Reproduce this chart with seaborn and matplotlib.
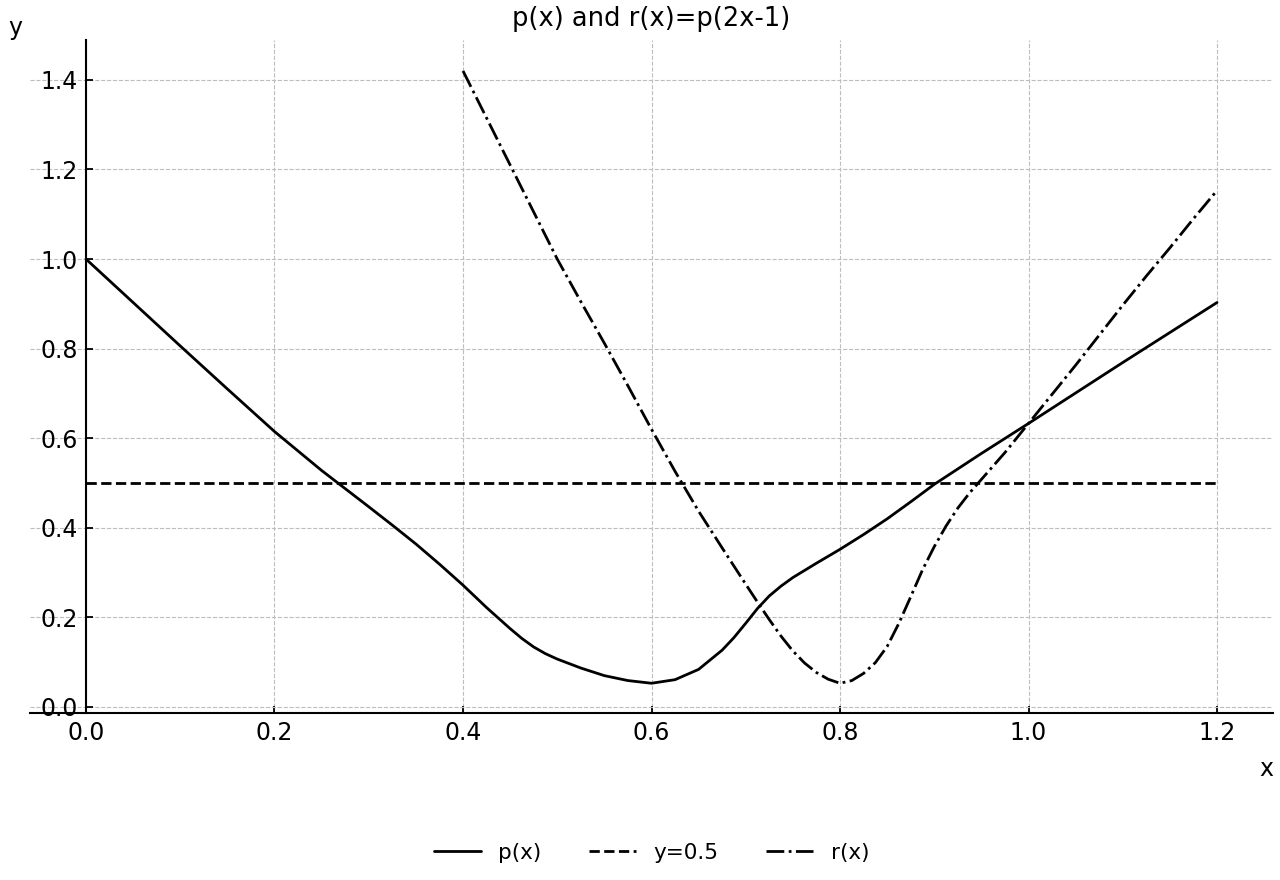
import matplotlib
matplotlib.use("Agg")
import matplotlib.pyplot as plt
import seaborn as sns

# p(x)
p_x = [0.0, 0.05, 0.1, 0.15, 0.2, 0.25, 0.3, 0.325, 0.35, 0.375, 0.4, 0.425, 0.45,
       0.4625, 0.475, 0.4875, 0.5, 0.525, 0.55, 0.575, 0.6, 0.625, 0.65, 0.675, 0.6875,
       0.7, 0.7125, 0.725, 0.7375, 0.75, 0.775, 0.8, 0.825, 0.85, 0.875, 0.9, 0.95,
       1.0, 1.05, 1.1, 1.15, 1.2]
p_y = [1.0, 0.903, 0.806, 0.71, 0.615, 0.528, 0.447, 0.406, 0.364, 0.319, 0.272, 0.222, 0.175,
       0.153, 0.134, 0.119, 0.107, 0.087, 0.07, 0.059, 0.053, 0.061, 0.084, 0.127, 0.155,
       0.187, 0.22, 0.248, 0.27, 0.289, 0.321, 0.352, 0.385, 0.42, 0.458, 0.497, 0.566,
       0.633, 0.701, 0.769, 0.836, 0.903]

# r(x) = p(2x-1), as drawn
r_x = [0.4, 0.425, 0.45, 0.475, 0.5, 0.525, 0.55, 0.575, 0.6, 0.625, 0.65, 0.675,
       0.7, 0.7125, 0.725, 0.7375, 0.75, 0.7625, 0.775, 0.7875, 0.8,
       0.8125, 0.825, 0.8375, 0.85, 0.8625, 0.875, 0.8875, 0.9, 0.9125, 0.925,
       0.9375, 0.95, 0.975, 1.0, 1.025, 1.05, 1.075, 1.1, 1.125,
       1.15, 1.175, 1.2]
r_y = [1.42, 1.315, 1.21, 1.105, 1.0, 0.905, 0.812, 0.717, 0.62, 0.526, 0.437, 0.355,
       0.274, 0.234, 0.195, 0.158, 0.125, 0.098, 0.077, 0.062, 0.053,
       0.059, 0.075, 0.099, 0.135, 0.187, 0.246, 0.306, 0.358, 0.404, 0.444,
       0.478, 0.508, 0.568, 0.633, 0.698, 0.763, 0.83, 0.897, 0.962,
       1.025, 1.09, 1.153]

h_x = [0.0, 1.2]
h_y = [0.5, 0.5]

sns.set_theme(style="ticks")
plt.rcParams['font.family'] = ['DejaVu Sans']
plt.rcParams['text.color'] = 'black'
plt.rcParams['axes.labelcolor'] = 'black'

fig = plt.figure(figsize=(12.8, 8.8), dpi=100)
ax = fig.add_axes([30/1280, 1-713/880, 1243/1280, 673/880])

sns.lineplot(x=p_x, y=p_y, ax=ax, color="black", linewidth=2, linestyle="-", label="p(x)", sort=False)
sns.lineplot(x=h_x, y=h_y, ax=ax, color="black", linewidth=2, linestyle="--", label="y=0.5", sort=False)
sns.lineplot(x=r_x, y=r_y, ax=ax, color="black", linewidth=2, linestyle="-.", label="r(x)", sort=False)

ax.set_xlim(-0.0594, 1.2594)
ax.set_ylim(-0.0134, 1.489)
ax.set_xticks([0.0, 0.2, 0.4, 0.6, 0.8, 1.0, 1.2])
ax.set_yticks([0.0, 0.2, 0.4, 0.6, 0.8, 1.0, 1.2, 1.4])

ax.grid(True, linestyle="--", color="#bdbdbd", linewidth=0.8)
ax.spines["left"].set_position(("data", 0))
ax.spines["top"].set_visible(False)
ax.spines["right"].set_visible(False)
for s in ["left", "bottom"]:
    ax.spines[s].set_color("black")
    ax.spines[s].set_linewidth(1.5)
ax.tick_params(direction="in", length=5, width=1.3, labelsize=17, pad=6,
               colors="black", labelcolor="black")

ax.set_title("p(x) and r(x)=p(2x-1)", fontsize=18.5, pad=10, color="black")
ax.set_xlabel("x", fontsize=17)
ax.set_ylabel("y", fontsize=17, rotation=0, ha="center", va="center")
ax.xaxis.set_label_coords(0.995, -0.066)
ax.yaxis.set_label_coords(-0.012, 1.018)

leg = ax.legend(loc="center", bbox_to_anchor=(0.5, -0.208), ncol=3, frameon=False,
                fontsize=15.5, handlelength=2.2, columnspacing=2.2)
for t in leg.get_texts():
    t.set_color("black")

fig.savefig("out.png", dpi=100)
